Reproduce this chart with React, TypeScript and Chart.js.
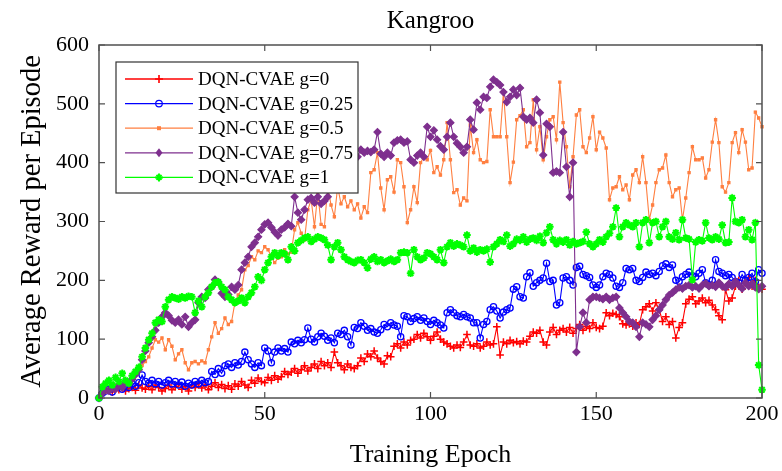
import React, { useEffect, useRef } from 'react';
import { Chart, registerables } from 'chart.js';

Chart.register(...registerables);

const FONT = "'Liberation Serif', 'Times New Roman', serif";

const chartTitle = 'Kangroo';
const xAxisTitle = 'Training Epoch';
const yAxisTitle = 'Average Reward per Episode';
const xTicks = [0, 50, 100, 150, 200];
const yTicks = [0, 100, 200, 300, 400, 500, 600];

const seriesLabels = ['DQN-CVAE g=0', 'DQN-CVAE g=0.25', 'DQN-CVAE g=0.5', 'DQN-CVAE g=0.75', 'DQN-CVAE g=1'];

// epochs 0..200
const epochs = Array.from({ length: 201 }, (_, i) => i);

const g0 = [
  0, 8, 12, 15, 10, 18, 14, 20, 12, 16,
  18, 13, 22, 17, 15, 20, 14, 22, 18, 12,
  16, 22, 14, 19, 24, 15, 20, 12, 22, 18,
  25, 17, 22, 14, 20, 26, 18, 23, 16, 21,
  15, 24, 20, 28, 22, 18, 30, 25, 34, 28,
  26, 35, 30, 38, 32, 36, 45, 40, 44, 50,
  42, 48, 55, 46, 52, 58, 50, 62, 55, 60,
  52, 78, 60, 55, 48, 58, 52, 50, 55, 68,
  62, 75, 70, 80, 68, 62, 58, 72, 70, 88,
  92, 85, 95, 90, 98, 100, 108, 102, 110, 104,
  98, 105, 112, 100, 95, 92, 88, 85, 90, 86,
  95, 108, 90, 88, 92, 85, 88, 95, 90, 92,
  121, 73, 95, 92, 98, 94, 96, 92, 97, 95,
  105, 112, 110, 115, 95, 90, 112, 120, 108, 115,
  118, 112, 120, 110, 118, 125, 115, 122, 118, 128,
  120, 118, 122, 145, 140, 144, 142, 138, 126, 124,
  126, 122, 128, 125, 150, 155, 160, 148, 162, 150,
  130, 138, 125, 130, 102, 120, 128, 160, 168, 172,
  160, 165, 170, 162, 166, 158, 150, 140, 133, 184,
  165, 170, 190, 200, 185, 195, 205, 190, 200, 188,
  185,
];

const g025 = [
  0, 8, 12, 15, 10, 18, 20, 15, 22, 18,
  24, 20, 26, 39, 28, 25, 30, 24, 28, 22,
  26, 30, 24, 28, 22, 27, 20, 25, 22, 28,
  24, 30, 26, 28, 45, 40, 50, 42, 55, 58,
  52, 60, 56, 62, 78, 65, 58, 52, 60, 55,
  85, 80, 60, 78, 85, 80, 84, 78, 95, 92,
  98, 94, 99, 119, 100, 95, 104, 110, 105, 98,
  102, 94, 110, 108, 115, 104, 90, 120, 118, 128,
  122, 115, 118, 112, 110, 116, 125, 121, 128, 124,
  122, 104, 140, 138, 130, 135, 138, 132, 136, 130,
  125, 132, 128, 124, 119, 145, 150, 145, 140, 138,
  142, 138, 136, 128, 128, 102, 125, 130, 150, 155,
  148, 136, 146, 150, 153, 185, 189, 172, 170, 206,
  213, 190, 196, 200, 204, 229, 198, 200, 158, 162,
  204, 206, 200, 192, 222, 224, 210, 208, 205, 192,
  188, 192, 206, 212, 210, 204, 190, 188, 196, 220,
  218, 220, 200, 198, 205, 214, 210, 212, 208, 215,
  225, 228, 222, 226, 200, 198, 206, 210, 214, 208,
  206, 212, 218, 196, 192, 200, 235, 215, 212, 208,
  210, 205, 198, 196, 210, 200, 205, 212, 198, 218,
  212,
];

const g05 = [
  0, 6, 10, 12, 15, 14, 20, 22, 25, 28,
  32, 38, 45, 55, 62, 70, 85, 99, 95, 102,
  82, 99, 88, 65, 75, 82, 60, 48, 60, 62,
  58, 63, 60, 82, 104, 128, 110, 118, 136, 125,
  130, 162, 175, 184, 218, 225, 240, 235, 250, 247,
  257, 252, 240, 230, 238, 240, 252, 245, 248, 286,
  298, 280, 269, 320, 337, 291, 349, 295, 291, 359,
  328, 308, 359, 330, 342, 325, 335, 320, 330, 306,
  325, 315, 383, 388, 417, 357, 320, 371, 376, 350,
  405, 400, 359, 298, 320, 359, 332, 400, 410, 405,
  421, 383, 393, 379, 405, 468, 405, 349, 354, 328,
  340, 335, 464, 417, 439, 405, 400, 402, 490, 444,
  444, 444, 520, 444, 366, 401, 473, 480, 490, 427,
  434, 507, 422, 461, 405, 444, 473, 478, 439, 537,
  468, 427, 359, 410, 481, 490, 427, 417, 442, 478,
  422, 452, 442, 425, 337, 357, 359, 376, 354, 362,
  337, 379, 388, 366, 410, 366, 303, 328, 366, 388,
  391, 413, 366, 342, 354, 357, 303, 340, 383, 427,
  405, 405, 408, 374, 388, 435, 473, 434, 359, 350,
  366, 434, 451, 417, 456, 435, 388, 391, 486, 476,
  461,
];

const g075 = [
  0, 8, 14, 12, 18, 15, 22, 18, 26, 24,
  32, 40, 48, 65, 80, 94, 104, 115, 128, 138,
  145, 140, 132, 128, 133, 125, 138, 121, 128, 133,
  162, 172, 170, 184, 189, 201, 197, 178, 172, 176,
  189, 184, 192, 218, 230, 240, 257, 264, 274, 286,
  295, 298, 290, 282, 276, 286, 290, 296, 292, 342,
  315, 303, 320, 337, 340, 332, 342, 330, 335, 342,
  410, 418, 412, 422, 415, 420, 412, 418, 410, 422,
  417, 420, 418, 422, 452, 415, 410, 417, 412, 434,
  438, 439, 434, 436, 405, 400, 412, 417, 410, 461,
  444, 455, 439, 428, 422, 444, 468, 444, 433, 427,
  417, 427, 473, 456, 502, 490, 512, 510, 529, 541,
  537, 532, 520, 503, 512, 524, 515, 527, 478, 473,
  476, 468, 507, 485, 413, 466, 461, 383, 385, 383,
  452, 393, 342, 400, 78, 121, 145, 128, 167, 172,
  172, 170, 168, 172, 167, 170, 172, 153, 145, 138,
  130, 128, 121, 104, 128, 125, 121, 133, 140, 150,
  158, 167, 175, 179, 184, 188, 186, 190, 192, 188,
  190, 186, 192, 195, 190, 192, 189, 196, 190, 188,
  194, 190, 198, 192, 186, 196, 190, 194, 188, 185,
  190,
];

const g1 = [
  0, 19, 25, 30, 22, 35, 28, 42, 30, 25,
  38, 45, 52, 70, 85, 99, 110, 128, 133, 130,
  155, 167, 172, 170, 168, 172, 170, 173, 172, 145,
  165, 155, 172, 179, 189, 196, 197, 189, 184, 172,
  167, 162, 165, 170, 162, 172, 179, 189, 206, 200,
  218, 230, 240, 247, 242, 247, 245, 235, 257, 250,
  264, 268, 272, 274, 266, 270, 274, 272, 269, 260,
  235, 257, 264, 252, 240, 235, 232, 230, 234, 235,
  230, 221, 236, 240, 232, 235, 230, 233, 236, 232,
  235, 247, 248, 247, 212, 252, 240, 235, 238, 247,
  245, 240, 235, 252, 230, 257, 264, 258, 262, 260,
  257, 277, 250, 255, 248, 252, 250, 253, 231, 257,
  262, 269, 266, 277, 258, 262, 270, 268, 274, 265,
  270, 272, 268, 275, 264, 281, 291, 269, 262, 268,
  265, 269, 260, 266, 262, 264, 266, 282, 262, 257,
  262, 269, 265, 274, 280, 291, 323, 274, 291, 298,
  294, 291, 298, 257, 298, 303, 264, 298, 300, 274,
  291, 300, 274, 270, 281, 269, 303, 272, 270, 201,
  265, 269, 267, 298, 272, 269, 274, 270, 294, 264,
  265, 340, 300, 298, 303, 274, 286, 269, 298, 56,
  14,
];

const seriesValues = [g0, g025, g05, g075, g1];
const seriesColors = ['#ff0000', '#0000ff', '#ff7f40', '#7e2f8e', '#00ff00'];
const seriesMarkers = ['cross', 'circle', 'rect', 'rectRot', 'star'];

function drawMarker(ctx: CanvasRenderingContext2D, kind: string, x: number, y: number, color: string) {
  ctx.save();
  ctx.strokeStyle = color;
  ctx.fillStyle = color;
  ctx.lineWidth = 1.2;
  ctx.beginPath();
  if (kind === 'cross') {
    ctx.moveTo(x - 4, y); ctx.lineTo(x + 4, y);
    ctx.moveTo(x, y - 4); ctx.lineTo(x, y + 4);
    ctx.lineWidth = 1.6;
    ctx.stroke();
  } else if (kind === 'circle') {
    ctx.arc(x, y, 3.3, 0, Math.PI * 2);
    ctx.stroke();
  } else if (kind === 'rect') {
    ctx.fillRect(x - 2, y - 2, 4, 4);
  } else if (kind === 'rectRot') {
    ctx.moveTo(x, y - 4.5); ctx.lineTo(x + 3.5, y); ctx.lineTo(x, y + 4.5); ctx.lineTo(x - 3.5, y);
    ctx.closePath(); ctx.fill();
  } else {
    ctx.lineWidth = 2;
    ctx.moveTo(x - 4, y); ctx.lineTo(x + 4, y);
    ctx.moveTo(x, y - 4); ctx.lineTo(x, y + 4);
    ctx.moveTo(x - 2.5, y - 2.5); ctx.lineTo(x + 2.5, y + 2.5);
    ctx.moveTo(x - 2.5, y + 2.5); ctx.lineTo(x + 2.5, y - 2.5);
    ctx.stroke();
  }
  ctx.restore();
}

const framePlugin = {
  id: 'matlabFrame',
  afterDatasetsDraw(chart: any) {
    const { ctx, chartArea } = chart;
    const { left, right, top, bottom } = chartArea;
    const sx = chart.scales.x;
    const sy = chart.scales.y;
    ctx.save();
    // axes box
    ctx.strokeStyle = '#505050';
    ctx.lineWidth = 1.5;
    ctx.strokeRect(left, top, right - left, bottom - top);
    ctx.lineWidth = 1.2;
    ctx.beginPath();
    xTicks.forEach((v) => {
      const px = sx.getPixelForValue(v);
      ctx.moveTo(px, bottom); ctx.lineTo(px, bottom - 6);
      ctx.moveTo(px, top); ctx.lineTo(px, top + 6);
    });
    yTicks.forEach((v) => {
      const py = sy.getPixelForValue(v);
      ctx.moveTo(left, py); ctx.lineTo(left + 6, py);
      ctx.moveTo(right, py); ctx.lineTo(right - 6, py);
    });
    ctx.stroke();

    // title
    ctx.fillStyle = '#000';
    ctx.font = `25px ${FONT}`;
    ctx.textAlign = 'center';
    ctx.textBaseline = 'middle';
    ctx.fillText(chartTitle, (left + right) / 2, 21);

    // legend
    const bx = left + 17;
    const by = top + 17;
    const bw = 242;
    const bh = 131;
    ctx.fillStyle = '#fff';
    ctx.fillRect(bx, by, bw, bh);
    ctx.strokeStyle = '#333';
    ctx.lineWidth = 1.2;
    ctx.strokeRect(bx, by, bw, bh);
    ctx.font = `19px ${FONT}`;
    ctx.textAlign = 'left';
    ctx.textBaseline = 'middle';
    seriesLabels.forEach((lab, i) => {
      const ly = by + 17 + i * 24.6;
      ctx.strokeStyle = seriesColors[i];
      ctx.lineWidth = 1.3;
      ctx.beginPath();
      ctx.moveTo(bx + 9, ly);
      ctx.lineTo(bx + 77, ly);
      ctx.stroke();
      drawMarker(ctx, seriesMarkers[i], bx + 43, ly, seriesColors[i]);
      ctx.fillStyle = '#000';
      ctx.fillText(lab, bx + 82, ly + 1);
    });
    ctx.restore();
  },
};

export default function App() {
  const ref = useRef<HTMLCanvasElement | null>(null);
  useEffect(() => {
    document.body.style.margin = '0';
    const canvas = ref.current;
    if (!canvas) return;
    const datasets = seriesLabels.map((lab, i) => {
      const kind = seriesMarkers[i];
      const common: any = {
        label: lab,
        data: epochs.map((e, j) => ({ x: e, y: seriesValues[i][j] })),
        borderColor: seriesColors[i],
        backgroundColor: seriesColors[i],
        pointBorderColor: seriesColors[i],
        borderWidth: 1.1,
        pointBorderWidth: 1.1,
        tension: 0,
        clip: false,
        order: 10 - i,
      };
      if (kind === 'cross') {
        common.pointStyle = 'cross';
        common.pointRadius = 3.8;
        common.pointBorderWidth = 1.5;
      } else if (kind === 'circle') {
        common.pointStyle = 'circle';
        common.pointRadius = 3.1;
        common.pointBackgroundColor = 'rgba(0,0,0,0)';
        common.pointBorderWidth = 1.3;
      } else if (kind === 'rect') {
        common.pointStyle = 'rect';
        common.pointRadius = 1.6;
        common.pointBackgroundColor = seriesColors[i];
      } else if (kind === 'rectRot') {
        common.pointStyle = 'rectRot';
        common.pointRadius = 3.6;
        common.pointBackgroundColor = seriesColors[i];
      } else {
        common.pointStyle = 'star';
        common.pointRadius = 3.8;
        common.pointBorderWidth = 2;
      }
      return common;
    });
    const chart = new Chart(canvas, {
      type: 'line',
      data: { datasets },
      plugins: [framePlugin],
      options: {
        animation: false,
        responsive: true,
        maintainAspectRatio: false,
        layout: { padding: { top: 45, right: 20, left: 0, bottom: 0 } },
        plugins: { legend: { display: false }, title: { display: false }, tooltip: { enabled: false } },
        scales: {
          x: {
            type: 'linear',
            min: 0,
            max: 200,
            afterFit: (s: any) => { s.height = 73; },
            afterBuildTicks: (s: any) => { s.ticks = xTicks.map((v) => ({ value: v })); },
            grid: { display: false, drawTicks: false },
            border: { display: false },
            ticks: { color: '#000', font: { family: FONT, size: 22 }, padding: 3, maxRotation: 0 },
            title: { display: true, text: xAxisTitle, color: '#000', font: { family: FONT, size: 26 }, padding: { top: 0, bottom: 0 } },
          },
          y: {
            type: 'linear',
            min: 0,
            max: 600,
            afterFit: (s: any) => { s.width = 99; },
            afterBuildTicks: (s: any) => { s.ticks = yTicks.map((v) => ({ value: v })); },
            grid: { display: false, drawTicks: false },
            border: { display: false },
            ticks: { color: '#000', font: { family: FONT, size: 22 }, padding: 10 },
            title: { display: true, text: yAxisTitle, color: '#000', font: { family: FONT, size: 28.5 }, padding: { top: 15, bottom: 0 } },
          },
        },
      },
    });
    return () => chart.destroy();
  }, []);
  return (
    <div style={{ position: 'relative', width: 782, height: 471, background: '#fff' }}>
      <canvas ref={ref} />
    </div>
  );
}
